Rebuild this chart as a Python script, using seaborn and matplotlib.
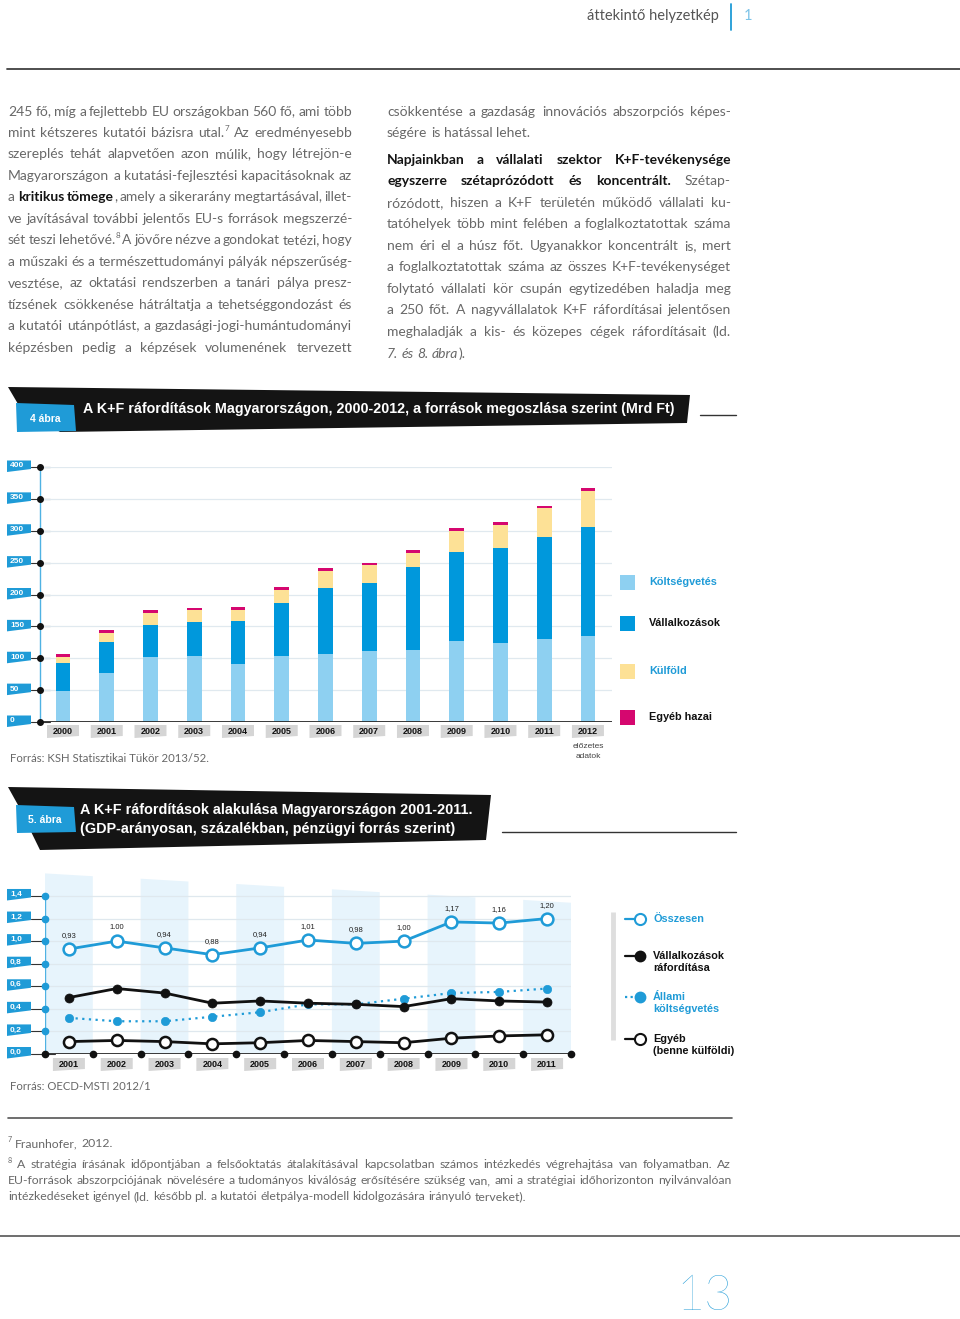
import numpy as np
import pandas as pd
import matplotlib
matplotlib.use("Agg")
import matplotlib.pyplot as plt
from matplotlib import font_manager
from matplotlib.patches import Polygon
import seaborn as sns

# ------------------------------
# DATA
# ------------------------------
years4 = ["2000", "2001", "2002", "2003", "2004", "2005", "2006",
          "2007", "2008", "2009", "2010", "2011", "2012"]
koltsegvetes = [49, 77, 101.6, 103, 91, 104, 107, 111, 112.6, 127.7, 124.6, 129.8, 135]
vallalkozasok = [44, 48.7, 51.3, 54.5, 68, 82, 103.7, 106.8, 130.3, 138.3, 148.2, 160.8, 171.2]
kulfold = [9, 13.6, 18.8, 17.8, 17, 21.5, 26, 28.8, 22.5, 33, 35.6, 44.5, 55.5]
egyeb_hazai = [4.5, 4.7, 4.7, 3.6, 4.2, 3.6, 4.2, 2.6, 4.2, 4.7, 5.7, 4.2, 4.7]
ticks4 = [0, 50, 100, 150, 200, 250, 300, 350, 400]
legend4 = ["Költségvetés", "Vállalkozások", "Külföld", "Egyéb hazai"]

years5 = ["2001", "2002", "2003", "2004", "2005", "2006",
          "2007", "2008", "2009", "2010", "2011"]
osszesen = [0.93, 1.00, 0.94, 0.88, 0.94, 1.01, 0.98, 1.00, 1.17, 1.16, 1.20]
osszesen_labels = ["0,93", "1.00", "0,94", "0,88", "0,94", "1,01",
                   "0,98", "1,00", "1,17", "1,16", "1,20"]
vallalkozasok5 = [0.50, 0.58, 0.54, 0.45, 0.47, 0.45, 0.44, 0.42, 0.49, 0.47, 0.46]
allami = [0.32, 0.29, 0.29, 0.33, 0.37, 0.44, 0.44, 0.49, 0.54, 0.55, 0.58]
egyeb = [0.11, 0.12, 0.11, 0.09, 0.10, 0.12, 0.11, 0.10, 0.14, 0.16, 0.17]
ticks5 = [0.0, 0.2, 0.4, 0.6, 0.8, 1.0, 1.2, 1.4]
ticks5_labels = ["0,0", "0,2", "0,4", "0,6", "0,8", "1,0", "1,2", "1,4"]
legend5 = ["Összesen", "Vállalkozások\nráfordítása", "Állami\nköltségvetés", "Egyéb\n(benne külföldi)"]

left_col = [
    "245 fő, míg a fejlettebb EU országokban 560 fő, ami több",
    "mint kétszeres kutatói bázisra utal.^7 Az eredményesebb",
    "szereplés tehát alapvetően azon múlik, hogy létrejön-e",
    "Magyarországon a kutatási-fejlesztési kapacitásoknak az",
    "a *kritikus tömege*, amely a sikerarány megtartásával, illet-",
    "ve javításával további jelentős EU-s források megszerzé-",
    "sét teszi lehetővé.^8 A jövőre nézve a gondokat tetézi, hogy",
    "a műszaki és a természettudományi pályák népszerűség-",
    "vesztése, az oktatási rendszerben a tanári pálya presz-",
    "tízsének csökkenése hátráltatja a tehetséggondozást és",
    "a kutatói utánpótlást, a gazdasági-jogi-humántudományi",
    "képzésben pedig a képzések volumenének tervezett",
]
right_col = [
    "csökkentése a gazdaság innovációs abszorpciós képes-",
    "ségére is hatással lehet.",
    "*Napjainkban a vállalati szektor K+F-tevékenysége*",
    "*egyszerre szétaprózódott és koncentrált.* Szétap-",
    "rózódott, hiszen a K+F területén működő vállalati ku-",
    "tatóhelyek több mint felében a foglalkoztatottak száma",
    "nem éri el a húsz főt. Ugyanakkor koncentrált is, mert",
    "a foglalkoztatottak száma az összes K+F-tevékenységet",
    "folytató vállalati kör csupán egytizedében haladja meg",
    "a 250 főt. A nagyvállalatok K+F ráfordításai jelentősen",
    "meghaladják a kis- és közepes cégek ráfordításait (ld.",
    "_7. és 8. ábra_).",
]
footnotes = [
    "^7 Fraunhofer, 2012.",
    "^8 A stratégia írásának időpontjában a felsőoktatás átalakításával kapcsolatban számos intézkedés végrehajtása van folyamatban. Az",
    "EU-források abszorpciójának növelésére a tudományos kiválóság erősítésére szükség van, ami a stratégiai időhorizonton nyilvánvalóan",
    "intézkedéseket igényel (ld. később pl. a kutatói életpálya-modell kidolgozására irányuló terveket).",
]

# ------------------------------
# STYLE
# ------------------------------
sns.set_style("white")
names = {f.name for f in font_manager.fontManager.ttflist}
BODY = ["Lato", "DejaVu Sans"] if "Lato" in names else ["Open Sans", "DejaVu Sans"]
ARIAL = ["Liberation Sans", "DejaVu Sans"]
NARROW = ["Liberation Sans Narrow", "DejaVu Sans"] if "Liberation Sans Narrow" in names else ARIAL
plt.rcParams["font.family"] = ARIAL

BLUE = "#1f9bd7"
LIGHT = "#8ed0f1"
MID = "#0098dc"
YELLOW = "#fde196"
PINK = "#d5076f"
GREY = "#686868"
DARK = "#141414"

W, H = 960, 1319
fig = plt.figure(figsize=(W / 100, H / 100), dpi=100)
page = fig.add_axes([0, 0, 1, 1])
page.set_xlim(0, W)
page.set_ylim(H, 0)
page.axis("off")
R = fig.canvas.get_renderer()


def frac(x0, y0, x1, y1):
    return [x0 / W, 1 - y1 / H, (x1 - x0) / W, (y1 - y0) / H]


def to_page(ax, x, y):
    return page.transData.inverted().transform(ax.transData.transform((x, y)))


def width_of(t):
    return t.get_window_extent(renderer=R).width


def parse(line):
    # *bold*, _italic_, ^superscript digit
    words, word, buf = [], [], ""
    state = {"bold": False, "ital": False, "sup": False}

    def style():
        return "bold" if state["bold"] else ("italic" if state["ital"] else "normal")

    for ch in line:
        if state["sup"]:
            word.append((ch, "sup"))
            state["sup"] = False
            continue
        if ch in "*_^ ":
            if buf:
                word.append((buf, style()))
                buf = ""
            if ch == " ":
                if word:
                    words.append(word)
                    word = []
            elif ch == "*":
                state["bold"] = not state["bold"]
            elif ch == "_":
                state["ital"] = not state["ital"]
            else:
                state["sup"] = True
        else:
            buf += ch
    if buf:
        word.append((buf, style()))
    if word:
        words.append(word)
    return words


def space_width(size):
    a = page.text(0, 0, "n n", fontsize=size, family=BODY)
    b = page.text(0, 0, "nn", fontsize=size, family=BODY)
    s = width_of(a) - width_of(b)
    a.remove()
    b.remove()
    return s


def build_line(words, y, size):
    em = size * 100 / 72
    base = y + 0.33 * em
    placed, total = [], 0
    for w in words:
        segs, ww = [], 0
        for txt, st in w:
            kw = dict(fontsize=size, family=BODY, color=GREY, weight="normal")
            yy = base
            if st == "bold":
                kw.update(weight="bold", color=DARK)
            elif st == "italic":
                kw.update(style="italic")
            elif st == "sup":
                kw.update(fontsize=size * 0.58)
                yy = base - 0.42 * em
            t = page.text(0, yy, txt, va="baseline", ha="left", **kw)
            segs.append((t, ww))
            ww += width_of(t)
        placed.append((segs, ww))
        total += ww
    return placed, total


def draw_lines(lines, x0, x1, ys, size, ragged=()):
    space = space_width(size)
    for k, (line, y) in enumerate(zip(lines, ys)):
        words = parse(line)
        placed, total = build_line(words, y, size)
        n = len(placed)
        if k in ragged or n < 2:
            gap = space
        else:
            gap = (x1 - x0 - total) / (n - 1)
            if gap < 0.75 * space:
                # line too long at this size: shrink it a little
                for segs, _ in placed:
                    for t, _o in segs:
                        t.remove()
                s2 = size * (x1 - x0 - 0.75 * space * (n - 1)) / total
                placed, total = build_line(words, y, s2)
                gap = (x1 - x0 - total) / (n - 1)
        x = x0
        for segs, ww in placed:
            for t, off in segs:
                t.set_x(x + off)
            x += ww + gap


def fit_text(x, y, s, width, size, **kw):
    t = page.text(x, y, s, fontsize=size, **kw)
    t.set_fontsize(size * width / width_of(t))
    return t


def tag(y, label):
    page.add_patch(Polygon([(7, y - 5.5), (31, y - 5.5), (31, y + 3), (7, y + 6)],
                           closed=True, fc=BLUE, ec="none"))
    page.text(10, y, label, color="white", fontsize=6, weight="bold",
              va="center", ha="left", family=NARROW)


def year_box(x, y, label, w=32):
    page.add_patch(Polygon([(x - w / 2, y - 6), (x + w / 2, y - 6), (x + w / 2, y + 5), (x - w / 2, y + 7)],
                           closed=True, fc="#d5d5d5", ec="none"))
    page.text(x, y + 0.5, label, fontsize=6.5, weight="bold", ha="center", va="center", color="#111")


# ------------------------------
# PAGE HEADER + TEXT
# ------------------------------
page.text(719, 16, "áttekintő helyzetkép", ha="right", va="center", fontsize=10.5,
          color="#555555", family=BODY)
page.plot([731, 731], [4, 30], color=BLUE, lw=1.3)
page.text(744, 16, "1", ha="left", va="center", fontsize=10.5, color="#7cc3e8", family=BODY)
page.plot([7, 960], [69, 69], color="#404040", lw=1.3)

draw_lines(left_col, 8, 352, [111 + k * 21.45 for k in range(12)], 10.0)
ys_right = [111, 132] + [159 + k * 21.55 for k in range(10)]
draw_lines(right_col, 387, 731, ys_right, 10.0, ragged=(1, 11))

# ------------------------------
# FIGURE 4 BANNER
# ------------------------------
page.add_patch(Polygon([(8, 387), (690, 395), (687, 423), (60, 432), (18, 404)],
                       closed=True, fc=DARK, ec="none"))
page.add_patch(Polygon([(16, 403), (74, 405), (76, 431), (17, 432)], closed=True, fc=BLUE, ec="none"))
page.text(45, 419, "4 ábra", color="white", fontsize=7.5, weight="bold", ha="center",
          va="center", family=NARROW)
fit_text(83, 409, "A K+F ráfordítások Magyarországon, 2000-2012, a források megoszlása szerint (Mrd Ft)",
         590, 10, color="white", weight="bold", va="center", family=NARROW)
page.plot([700, 736], [414.5, 414.5], color="#333", lw=1)

# ------------------------------
# FIGURE 4 CHART
# ------------------------------
df4 = pd.DataFrame({"pos": np.arange(len(years4)), "Költségvetés": koltsegvetes,
                    "Vállalkozások": vallalkozasok, "Külföld": kulfold, "Egyéb hazai": egyeb_hazai})
colors4 = [LIGHT, MID, YELLOW, PINK]
stack = df4[legend4].cumsum(axis=1)

ax4 = fig.add_axes(frac(40, 467, 612, 722))
ax4.set_facecolor("none")
for name, color in reversed(list(zip(legend4, colors4))):
    sns.barplot(x=df4["pos"], y=stack[name], color=color, saturation=1, width=0.34,
                errorbar=None, linewidth=0, ax=ax4, zorder=3)
xl4 = -0.526
ax4.set_xlim(xl4, 12.55)
ax4.set_ylim(0, 400)
ax4.set_yticks(ticks4)
ax4.set_yticklabels([])
ax4.set_xticks([])
ax4.set_xlabel("")
ax4.set_ylabel("")
ax4.tick_params(length=0)
ax4.yaxis.grid(True, color="#e0e9ef", lw=0.9)
ax4.set_axisbelow(True)
sns.despine(ax=ax4, left=True, bottom=True)
ax4.axhline(0, color="#2a2a2a", lw=1.3, zorder=4)
ax4.plot([xl4, xl4], [0, 400], color="#4fb2e3", lw=1, clip_on=False, zorder=4)
ax4.plot([xl4] * len(ticks4), ticks4, "o", color="#111", ms=4, clip_on=False, zorder=5)

for v in ticks4:
    px, py = to_page(ax4, xl4, v)
    page.plot([31, px + 10], [py, py], color="#333", lw=0.8)
    tag(py - 1, str(v))
for i, yr in enumerate(years4):
    px, _ = to_page(ax4, i, 0)
    year_box(px, 731, yr)
px12, _ = to_page(ax4, len(years4) - 1, 0)
page.text(px12, 747, "előzetes", fontsize=6, ha="center", va="center", color="#444")
page.text(px12, 757, "adatok", fontsize=6, ha="center", va="center", color="#444")

legend4_y = [582, 623, 671, 717]
legend4_txt = [BLUE, "#111", BLUE, "#111"]
for name, color, tcol, y in zip(legend4, colors4, legend4_txt, legend4_y):
    page.add_patch(Polygon([(620, y - 7.5), (635, y - 7.5), (635, y + 7.5), (620, y + 7.5)],
                           closed=True, fc=color, ec="none"))
    page.text(649, y, name, fontsize=7.8, weight="bold", color=tcol, va="center")

page.text(10, 759, "Forrás: KSH Statisztikai Tükör 2013/52.", fontsize=8.2, color=GREY,
          family=BODY, va="center")

# ------------------------------
# FIGURE 5 BANNER
# ------------------------------
page.add_patch(Polygon([(8, 787), (491, 795), (486, 840), (40, 850), (18, 805)],
                       closed=True, fc=DARK, ec="none"))
page.add_patch(Polygon([(16, 805), (74, 807), (76, 832), (17, 833)], closed=True, fc=BLUE, ec="none"))
page.text(45, 820, "5. ábra", color="white", fontsize=7.5, weight="bold", ha="center",
          va="center", family=NARROW)
t5 = fit_text(80, 810, "A K+F ráfordítások alakulása Magyarországon 2001-2011.", 392, 10,
              color="white", weight="bold", va="center", family=NARROW)
page.text(80, 829, "(GDP-arányosan, százalékban, pénzügyi forrás szerint)", fontsize=t5.get_fontsize(),
          color="white", weight="bold", va="center", family=NARROW)
page.plot([502, 736], [832, 832], color="#333", lw=1)

# ------------------------------
# FIGURE 5 CHART
# ------------------------------
pos5 = np.arange(len(years5))
ax5 = fig.add_axes(frac(45, 873.4, 571, 1054))
ax5.set_facecolor("none")
for i in range(0, len(years5), 2):
    top = 1.60 - 0.0235 * i
    ax5.add_patch(Polygon([(i - 0.5, 0), (i - 0.5, top), (i + 0.5, top - 0.025), (i + 0.5, 0)],
                          closed=True, fc="#e7f4fc", ec="none", zorder=0))

sns.lineplot(x=pos5, y=osszesen, ax=ax5, color=BLUE, lw=2, marker="o", markersize=8.5,
             markerfacecolor="white", markeredgecolor=BLUE, markeredgewidth=1.8, zorder=6)
sns.lineplot(x=pos5, y=vallalkozasok5, ax=ax5, color="#111", lw=2, marker="o", markersize=6.5,
             markerfacecolor="#111", markeredgecolor="#111", markeredgewidth=0.5, zorder=5)
sns.lineplot(x=pos5, y=allami, ax=ax5, color=BLUE, lw=1.6, linestyle=(0, (1, 2)), marker="o",
             markersize=6, markerfacecolor=BLUE, markeredgecolor=BLUE, markeredgewidth=0.5, zorder=4)
sns.lineplot(x=pos5, y=egyeb, ax=ax5, color="#111", lw=2, marker="o", markersize=8,
             markerfacecolor="white", markeredgecolor="#111", markeredgewidth=1.8, zorder=5)
for i, (v, lab) in enumerate(zip(osszesen, osszesen_labels)):
    ax5.annotate(lab, (i, v), xytext=(0, 10), textcoords="offset pixels", ha="center",
                 va="bottom", fontsize=5.5, color="#222")

ax5.set_xlim(-0.5, 10.5)
ax5.set_ylim(0, 1.6)
ax5.set_yticks(ticks5)
ax5.set_yticklabels([])
ax5.set_xticks([])
ax5.tick_params(length=0)
ax5.yaxis.grid(True, color="#dfe8ee", lw=0.9)
ax5.set_axisbelow(True)
sns.despine(ax=ax5, left=True, bottom=True)
ax5.axhline(0, color="#2a2a2a", lw=1.3, zorder=3)
ax5.plot([-0.5, -0.5], [0, 1.4], color="#4fb2e3", lw=1, zorder=3)
ax5.plot([-0.5] * (len(ticks5) - 1), ticks5[1:], "o", color=BLUE, ms=4.5, clip_on=False, zorder=4)
ax5.plot(np.arange(len(years5) + 1) - 0.5, [0] * (len(years5) + 1), "o", color="#111", ms=4.5,
         clip_on=False, zorder=4)

for v, lab in zip(ticks5, ticks5_labels):
    px, py = to_page(ax5, -0.5, v)
    page.plot([31, px + 10], [py, py], color="#333", lw=0.8)
    tag(py - 1.5, lab)
for i, yr in enumerate(years5):
    px, _ = to_page(ax5, i, 0)
    year_box(px, 1064, yr)

page.plot([612.5, 612.5], [912, 1040], color="#dedede", lw=3.5, solid_capstyle="butt")
legend5_y = [919, 956, 997, 1039]
legend5_style = [
    dict(color=BLUE, ls="-", mfc="white", mec=BLUE, ms=8),
    dict(color="#111", ls="-", mfc="#111", mec="#111", ms=7),
    dict(color=BLUE, ls=(0, (1, 1.5)), mfc=BLUE, mec=BLUE, ms=7),
    dict(color="#111", ls="-", mfc="white", mec="#111", ms=8),
]
legend5_txt = [BLUE, "#111", BLUE, "#111"]
for name, st, tcol, y in zip(legend5, legend5_style, legend5_txt, legend5_y):
    page.plot([625, 637], [y, y], color=st["color"], ls=st["ls"], lw=1.6)
    page.plot([640], [y], "o", mfc=st["mfc"], mec=st["mec"], ms=st["ms"], mew=1.5)
    page.text(653, y - 5, name, fontsize=7.8, weight="bold", color=tcol, va="top",
              linespacing=1.2)

page.text(10, 1086, "Forrás: OECD-MSTI 2012/1", fontsize=8.2, color=GREY, family=BODY,
          va="center")

# ------------------------------
# FOOTNOTES + PAGE NUMBER
# ------------------------------
page.plot([8, 732], [1118, 1118], color="#555", lw=1.2)
draw_lines(footnotes, 8, 731, [1143, 1164, 1180, 1196], 8.8, ragged=(0, 3))
page.plot([0, 960], [1236, 1236], color="#555", lw=1.2)
page.text(676, 1297, "13", fontsize=35, color="#1f9bd7", family=BODY, weight="light",
          va="center")

fig.savefig("out.png", dpi=100)
